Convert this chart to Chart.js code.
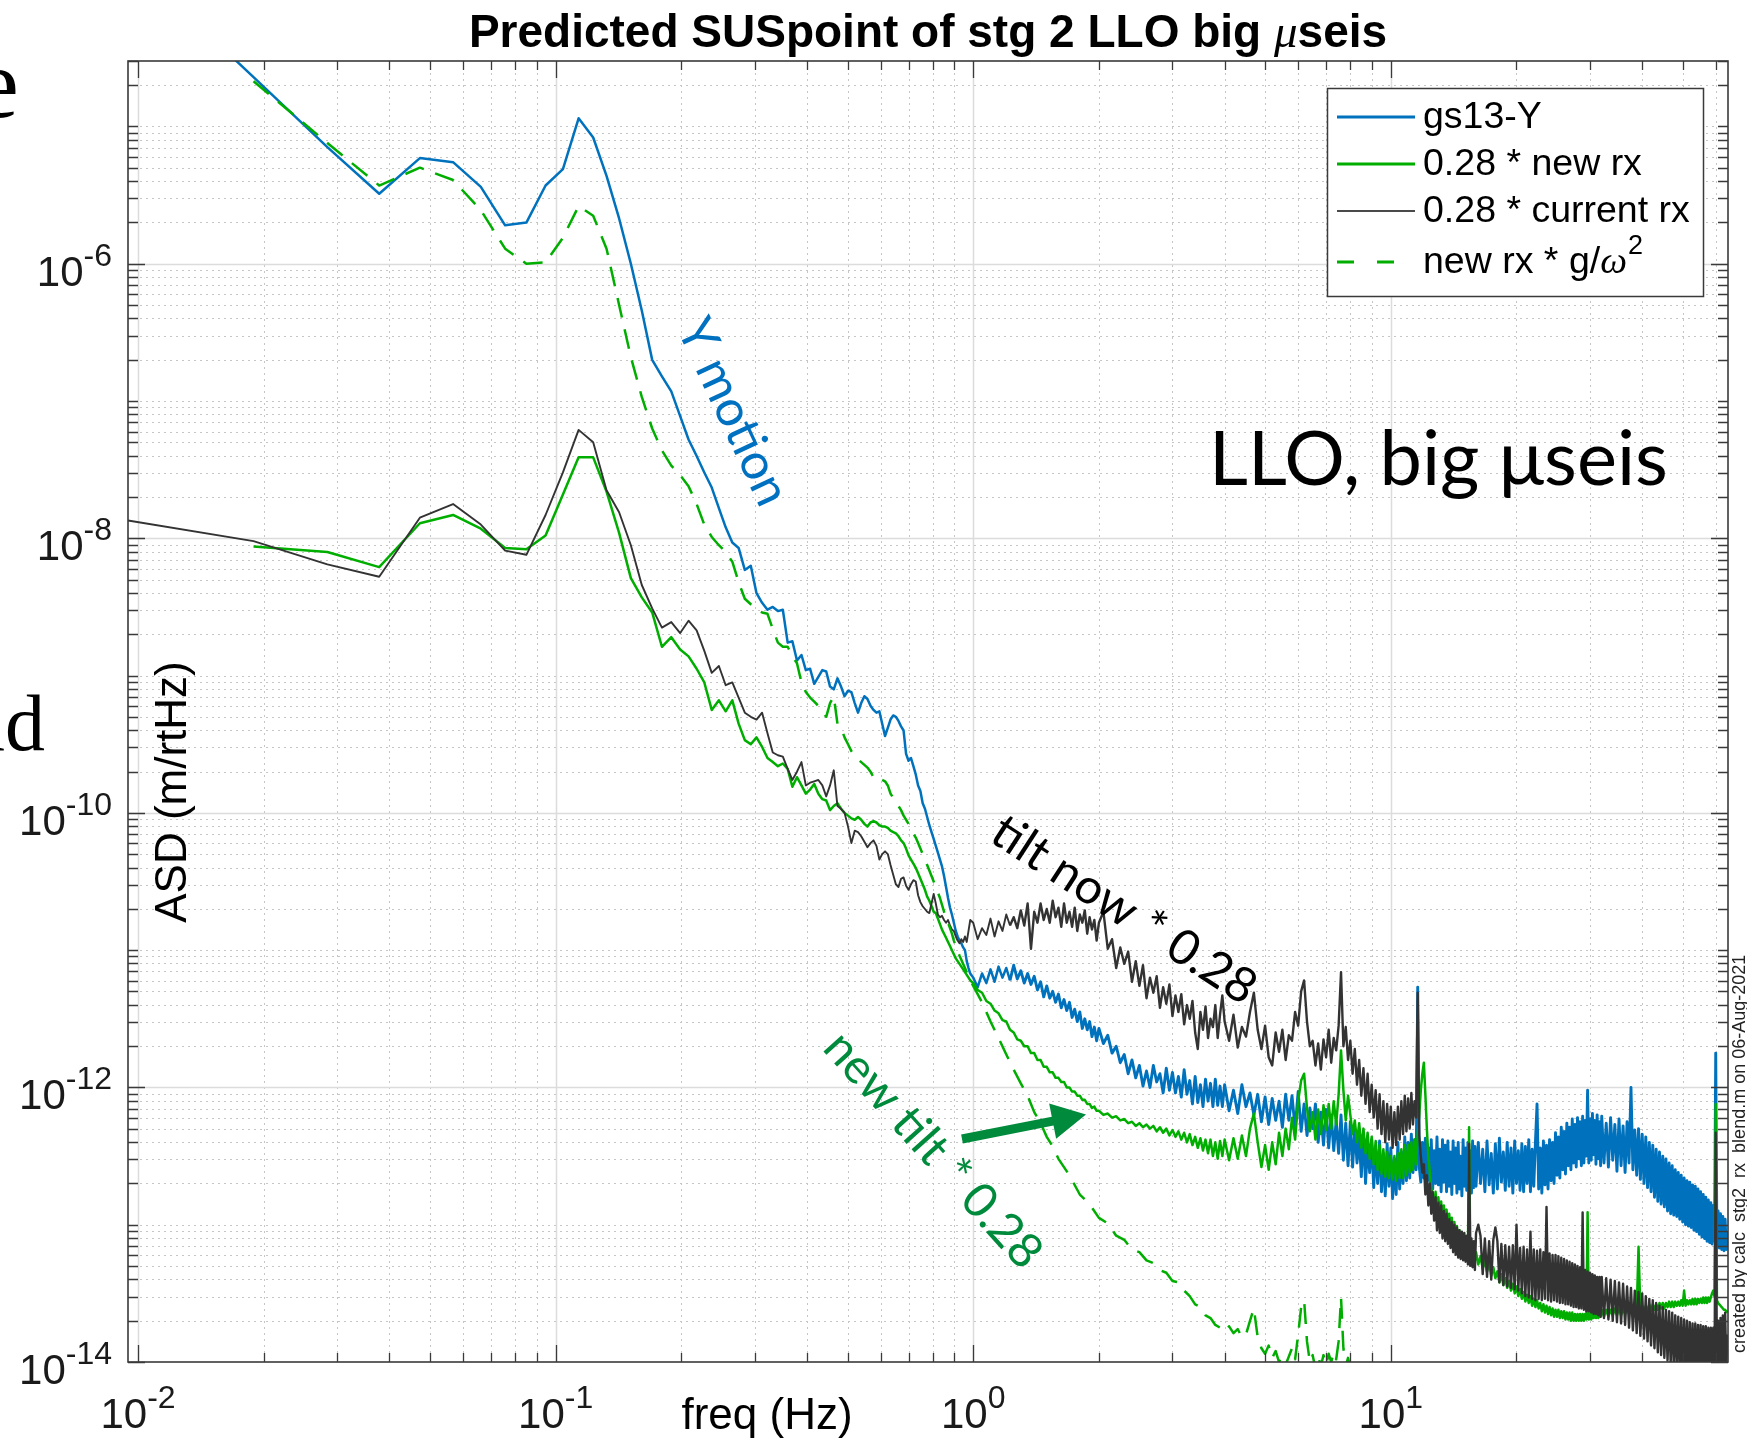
<!DOCTYPE html>
<html>
<head>
<meta charset="utf-8">
<title>Predicted SUSpoint of stg 2 LLO big μseis</title>
<script src="https://cdn.jsdelivr.net/npm/chart.js@4.4.1/dist/chart.umd.min.js"></script>
<style>
  html, body { margin: 0; padding: 0; background: #ffffff; }
  #wrap { width: 1747px; height: 1438px; position: relative; }
  canvas { display: block; }
</style>
</head>
<body>
<div id="wrap"><canvas id="c" width="1747" height="1438"></canvas></div>
<script>
// ---------------------------------------------------------------------------
// Data: ASD values are stored as log10(m/rtHz).
// Low band: FFT bins (df = 0.00946 Hz) up to 1 Hz.
// ---------------------------------------------------------------------------
const binFreq = [0.00946,0.0189,0.0284,0.0378,0.0473,0.0568,0.0662,0.0757,0.0851,0.0946,
0.1041,0.1135,0.1230,0.1324,0.1419,0.1514,0.1608,0.1703,0.1797,0.1892,
0.1987,0.2081,0.2176,0.2270,0.2365,0.2460,0.2554,0.2649,0.2743,0.2838,
0.2933,0.3027,0.3122,0.3216,0.3311,0.3406,0.3500,0.3595,0.3689,0.3784,
0.3879,0.3973,0.4068,0.4162,0.4257,0.4352,0.4446,0.4541,0.4635,0.4730,
0.4825,0.4919,0.5014,0.5108,0.5203,0.5298,0.5392,0.5487,0.5581,0.5676,
0.5771,0.5865,0.5960,0.6054,0.6149,0.6244,0.6338,0.6433,0.6527,0.6622,
0.6717,0.6811,0.6906,0.7000,0.7095,0.7190,0.7284,0.7379,0.7473,0.7568,
0.7663,0.7757,0.7852,0.7946,0.8041,0.8136,0.8230,0.8325,0.8419,0.8514,
0.8609,0.8703,0.8798,0.8892,0.8987,0.9082,0.9176,0.9271,0.9365,0.9460,
0.9555,0.9649,0.9744,0.9838];

// gs13-Y
const gs13Y_bin = [-3.78,-4.64,-5.15,-5.49,-5.23,-5.26,-5.44,-5.72,-5.70,-5.43,
-5.31,-4.94,-5.08,-5.36,-5.67,-6.00,-6.34,-6.70,-6.82,-6.93,
-7.11,-7.28,-7.40,-7.52,-7.63,-7.78,-7.92,-8.03,-8.07,-8.23,
-8.20,-8.40,-8.47,-8.52,-8.50,-8.53,-8.52,-8.76,-8.75,-8.89,
-8.85,-8.96,-8.95,-9.06,-9.01,-8.96,-8.97,-9.08,-9.10,-9.02,
-9.08,-9.15,-9.11,-9.12,-9.20,-9.27,-9.20,-9.15,-9.17,-9.22,
-9.25,-9.27,-9.26,-9.35,-9.44,-9.38,-9.32,-9.29,-9.30,-9.33,
-9.37,-9.40,-9.57,-9.62,-9.60,-9.66,-9.72,-9.80,-9.84,-9.93,
-9.97,-10.03,-10.09,-10.14,-10.19,-10.24,-10.29,-10.34,-10.39,-10.46,
-10.54,-10.62,-10.69,-10.74,-10.80,-10.86,-10.90,-10.93,-10.95,-10.98,
-11.00,-11.08,-11.13,-11.17];

// 0.28 * new rx
const newRx_bin = [null,-8.06,-8.10,-8.21,-7.89,-7.83,-7.93,-8.07,-8.08,-7.98,
-7.68,-7.41,-7.41,-7.66,-7.96,-8.29,-8.43,-8.54,-8.79,-8.72,
-8.81,-8.86,-8.95,-9.05,-9.25,-9.18,-9.26,-9.18,-9.35,-9.47,
-9.50,-9.45,-9.52,-9.60,-9.63,-9.66,-9.64,-9.68,-9.81,-9.74,
-9.80,-9.86,-9.83,-9.79,-9.86,-9.90,-9.91,-9.98,-9.95,-9.93,
-9.97,-10.00,-10.02,-10.04,-10.05,-10.03,-10.05,-10.08,-10.10,-10.07,
-10.06,-10.07,-10.09,-10.10,-10.10,-10.11,-10.13,-10.14,-10.15,-10.17,
-10.20,-10.22,-10.26,-10.31,-10.34,-10.37,-10.40,-10.44,-10.48,-10.52,
-10.56,-10.61,-10.64,-10.68,-10.72,-10.73,-10.77,-10.81,-10.85,-10.88,
-10.91,-10.94,-10.97,-11.00,-11.03,-11.06,-11.08,-11.10,-11.12,-11.14,
-11.16,-11.18,-11.20,-11.22];

// 0.28 * current rx
const curRx_bin = [-7.87,-8.02,-8.19,-8.28,-7.85,-7.75,-7.90,-8.09,-8.12,-7.83,
-7.52,-7.21,-7.30,-7.65,-7.81,-8.05,-8.34,-8.51,-8.65,-8.61,
-8.69,-8.60,-8.67,-8.82,-8.98,-8.93,-9.07,-9.05,-9.16,-9.27,
-9.30,-9.32,-9.27,-9.42,-9.56,-9.58,-9.59,-9.68,-9.76,-9.70,
-9.63,-9.80,-9.78,-9.77,-9.76,-9.80,-9.88,-9.80,-9.69,-9.95,
-9.97,-10.00,-10.10,-10.22,-10.13,-10.14,-10.17,-10.21,-10.25,-10.22,
-10.20,-10.24,-10.34,-10.30,-10.28,-10.30,-10.38,-10.45,-10.52,-10.54,
-10.48,-10.47,-10.53,-10.56,-10.52,-10.49,-10.50,-10.60,-10.65,-10.68,
-10.70,-10.72,-10.73,-10.66,-10.59,-10.66,-10.74,-10.76,-10.75,-10.78,
-10.80,-10.78,-10.82,-10.85,-10.86,-10.90,-10.93,-10.95,-10.92,-10.94,
-10.90,-10.94,-10.86,-10.78];

// new rx * g/w^2
const newRxG_bin = [null,-4.67,-5.12,-5.43,-5.30,-5.39,-5.61,-5.89,-6.00,-5.99,
-5.81,-5.58,-5.65,-5.89,-6.30,-6.68,-6.97,-7.20,-7.36,-7.47,
-7.54,-7.62,-7.75,-7.90,-7.99,-8.05,-8.10,-8.17,-8.32,-8.44,
-8.48,-8.52,-8.54,-8.55,-8.66,-8.76,-8.79,-8.79,-8.86,-8.91,
-9.05,-9.12,-9.16,-9.19,-9.22,-9.26,-9.30,-9.20,-9.15,-9.35,
-9.38,-9.45,-9.50,-9.55,-9.58,-9.61,-9.63,-9.65,-9.67,-9.70,
-9.74,-9.76,-9.75,-9.76,-9.77,-9.80,-9.86,-9.89,-9.92,-9.95,
-9.98,-10.02,-10.05,-10.08,-10.11,-10.15,-10.18,-10.22,-10.26,-10.30,
-10.34,-10.38,-10.42,-10.46,-10.50,-10.54,-10.58,-10.62,-10.67,-10.72,
-10.76,-10.80,-10.84,-10.88,-10.93,-10.97,-11.00,-11.04,-11.07,-11.10,
-11.13,-11.16,-11.19,-11.22];

// High band, 1 - 64 Hz (shared frequency list for the three solid traces)
const hiFreq = [1.000,1.025,1.050,1.075,1.100,1.125,1.150,1.175,1.200,1.225,
1.250,1.275,1.300,1.325,1.350,1.375,1.400,1.425,1.450,1.475,
1.500,1.525,1.550,1.575,1.600,1.625,1.650,1.675,1.700,1.725,
1.750,1.775,1.800,1.825,1.850,1.875,1.900,1.925,1.950,1.975,
2.00,2.05,2.10,2.15,2.20,2.25,2.30,2.35,2.40,2.45,
2.50,2.55,2.60,2.65,2.70,2.75,2.80,2.85,2.90,2.95,
3.00,3.05,3.10,3.15,3.20,3.25,3.30,3.35,3.40,3.45,
3.50,3.55,3.60,3.65,3.70,3.75,3.80,3.85,3.90,3.95,
4.0,4.1,4.2,4.3,4.4,4.5,4.6,4.7,4.8,4.9,
5.0,5.1,5.2,5.3,5.4,5.5,5.6,5.7,5.8,5.9,
6.0,6.1,6.2,6.3,6.4,6.5,6.6,6.7,6.8,6.9,
7.0,7.1,7.2,7.3,7.4,7.5,7.6,7.7,7.8,7.9,
8.0,8.1,8.2,8.3,8.4,8.5,8.6,8.7,8.8,8.9,
9.0,9.1,9.2,9.3,9.4,9.5,9.6,9.7,9.8,9.9,
10.0,10.1,10.2,10.3,10.4,10.5,10.6,10.7,10.8,10.9,
11.0,11.1,11.2,11.3,11.4,11.5,11.6,11.7,11.8,11.9,
12.0,12.1,12.2,12.3,12.4,12.5,12.6,12.7,12.8,12.9,
13.0,13.1,13.2,13.3,13.4,13.5,13.6,13.7,13.8,13.9,
14.0,14.1,14.2,14.3,14.4,14.5,14.6,14.7,14.8,14.9,
15.0,15.1,15.2,15.3,15.4,15.5,15.6,15.7,15.8,15.9,
16.0,16.2,16.4,16.6,16.8,17.0,17.2,17.4,17.6,17.8,
18.0,18.2,18.4,18.6,18.8,19.0,19.2,19.4,19.6,19.8,
20.0,20.2,20.4,20.6,20.8,21.0,21.2,21.4,21.6,21.8,
22.0,22.2,22.4,22.6,22.8,23.0,23.2,23.4,23.6,23.8,
24.0,24.2,24.4,24.6,24.8,25.0,25.2,25.4,25.6,25.8,
26.0,26.2,26.4,26.6,26.8,27.0,27.2,27.4,27.6,27.8,
28.0,28.2,28.4,28.6,28.8,29.0,29.2,29.4,29.6,29.8,
30.0,30.2,30.4,30.6,30.8,31.0,31.2,31.4,31.6,31.8,
32.0,32.4,32.8,33.2,33.6,34.0,34.4,34.8,35.2,35.6,
36.0,36.4,36.8,37.2,37.6,38.0,38.4,38.8,39.2,39.6,
40.0,40.4,40.8,41.2,41.6,42.0,42.4,42.8,43.2,43.6,
44.0,44.4,44.8,45.2,45.6,46.0,46.4,46.8,47.2,47.6,
48.0,48.4,48.8,49.2,49.6,50.0,50.4,50.8,51.2,51.6,
52.0,52.4,52.8,53.2,53.6,54.0,54.4,54.8,55.2,55.6,
56.0,56.4,56.8,57.2,57.6,58.0,58.4,58.8,59.2,59.6,
60.0,60.4,60.8,61.2,61.6,62.0,62.4,62.8,63.2,63.6,
64.0];

const gs13Y_hi = [-11.20,-11.27,-11.17,-11.24,-11.14,-11.23,-11.12,-11.20,-11.13,-11.22,
-11.11,-11.21,-11.15,-11.24,-11.17,-11.25,-11.19,-11.29,-11.23,-11.34,
-11.26,-11.35,-11.30,-11.38,-11.32,-11.42,-11.36,-11.44,-11.38,-11.49,
-11.43,-11.52,-11.45,-11.57,-11.50,-11.58,-11.52,-11.63,-11.56,-11.66,
-11.57,-11.68,-11.62,-11.75,-11.70,-11.82,-11.76,-11.90,-11.80,-11.93,
-11.84,-11.99,-11.88,-12.00,-11.84,-11.96,-11.90,-12.04,-11.86,-12.02,
-11.89,-12.04,-11.92,-12.07,-11.87,-12.05,-11.95,-12.12,-11.92,-12.11,
-11.98,-12.14,-11.94,-12.10,-11.97,-12.14,-11.94,-12.13,-11.99,-12.14,
-11.98,-12.17,-12.02,-12.19,-11.98,-12.14,-12.04,-12.20,-12.05,-12.25,
-12.07,-12.27,-12.08,-12.24,-12.10,-12.29,-12.05,-12.24,-12.06,-12.30,
-12.03,-12.32,-12.12,-12.35,-12.15,-12.30,-12.12,-12.40,-12.18,-12.42,
-12.16,-12.44,-12.20,-12.46,-12.24,-12.48,-12.20,-12.53,-12.26,-12.57,
-12.25,-12.58,-12.30,-12.55,-12.36,-12.65,-12.33,-12.70,-12.42,-12.62,
-12.38,-12.73,-12.45,-12.70,-12.39,-12.76,-12.48,-12.79,-12.41,-12.72,
-12.44,-12.81,-12.52,-12.78,-12.40,-12.74,-12.47,-12.70,-12.36,-12.68,
-12.40,-12.66,-12.34,-12.62,-12.38,-12.60,-11.27,-12.58,-12.69,-12.40,
-12.66,-12.37,-12.72,-12.44,-12.68,-12.38,-12.74,-12.46,-12.70,-12.36,
-12.71,-12.45,-12.76,-12.38,-12.69,-12.42,-12.76,-12.39,-12.72,-12.47,
-12.78,-12.39,-12.70,-12.44,-12.77,-12.40,-12.74,-12.50,-12.79,-12.38,
-12.72,-12.44,-12.75,-12.40,-12.71,-12.46,-12.77,-12.39,-12.73,-12.43,
-12.72,-12.40,-12.70,-12.45,-12.76,-12.39,-12.71,-12.48,-12.77,-12.41,
-12.74,-12.37,-12.69,-12.47,-12.75,-12.40,-12.72,-12.44,-12.77,-12.39,
-12.70,-12.46,-12.75,-12.41,-12.76,-12.43,-12.70,-12.38,-12.76,-12.45,
-12.72,-12.40,-12.12,-12.74,-12.44,-12.77,-12.39,-12.71,-12.42,-12.74,
-12.38,-12.68,-12.40,-12.70,-12.33,-12.64,-12.36,-12.66,-12.29,-12.60,
-12.32,-12.63,-12.26,-12.57,-12.29,-12.60,-12.23,-12.55,-12.27,-12.58,
-12.22,-12.52,-12.25,-12.57,-12.21,-12.55,-12.24,-12.50,-12.02,-12.55,
-12.23,-12.53,-12.19,-12.49,-12.24,-12.56,-12.20,-12.52,-12.25,-12.57,
-12.21,-12.55,-12.26,-12.58,-12.22,-12.53,-12.27,-12.61,-12.23,-12.57,
-12.28,-12.62,-12.25,-12.55,-12.00,-12.60,-12.31,-12.64,-12.30,-12.67,
-12.34,-12.70,-12.36,-12.73,-12.40,-12.76,-12.42,-12.80,-12.45,-12.83,
-12.47,-12.85,-12.50,-12.87,-12.52,-12.90,-12.55,-12.92,-12.57,-12.93,
-12.60,-12.94,-12.62,-12.96,-12.64,-12.98,-12.66,-13.00,-12.68,-13.01,
-12.69,-13.02,-12.71,-13.04,-12.72,-13.05,-12.74,-13.07,-12.76,-13.09,
-12.78,-13.10,-12.80,-13.12,-12.82,-13.13,-12.84,-13.14,-12.86,-13.12,
-11.75,-13.16,-12.90,-13.17,-12.92,-13.18,-12.94,-13.19,-12.96,-13.18,
-13.05];

const newRx_hi = [-11.24,-11.29,-11.31,-11.37,-11.39,-11.44,-11.46,-11.51,-11.52,-11.58,
-11.60,-11.65,-11.66,-11.70,-11.70,-11.75,-11.75,-11.80,-11.80,-11.85,
-11.85,-11.89,-11.89,-11.93,-11.93,-11.96,-11.96,-12.00,-12.00,-12.03,
-12.03,-12.06,-12.06,-12.09,-12.09,-12.12,-12.12,-12.15,-12.14,-12.17,
-12.17,-12.20,-12.19,-12.22,-12.21,-12.24,-12.23,-12.26,-12.25,-12.28,
-12.26,-12.29,-12.27,-12.30,-12.28,-12.32,-12.29,-12.33,-12.30,-12.35,
-12.31,-12.36,-12.32,-12.38,-12.33,-12.40,-12.34,-12.42,-12.36,-12.44,
-12.37,-12.46,-12.38,-12.48,-12.38,-12.50,-12.40,-12.52,-12.39,-12.50,
-12.38,-12.53,-12.37,-12.52,-12.35,-12.50,-12.30,-12.19,-12.40,-12.58,
-12.42,-12.60,-12.40,-12.56,-12.33,-12.50,-12.30,-12.45,-12.22,-12.38,
-12.10,-11.95,-11.90,-12.15,-12.32,-12.18,-12.38,-12.16,-12.34,-12.13,
-12.31,-12.12,-12.30,-12.10,-12.27,-12.05,-11.73,-12.02,-12.24,-12.06,
-12.20,-12.34,-12.24,-12.40,-12.26,-12.44,-12.30,-12.48,-12.33,-12.52,
-12.36,-12.56,-12.39,-12.60,-12.42,-12.63,-12.45,-12.65,-12.47,-12.66,
-12.50,-12.67,-12.50,-12.68,-12.48,-12.66,-12.45,-12.66,-12.42,-12.64,
-12.42,-12.62,-12.40,-12.60,-12.38,-12.56,-12.34,-12.20,-12.02,-11.90,
-11.82,-12.05,-12.30,-12.50,-12.62,-12.74,-12.78,-12.86,-12.76,-12.90,
-12.80,-12.94,-12.83,-12.97,-12.86,-13.00,-12.89,-13.02,-12.92,-13.05,
-12.95,-13.08,-12.98,-13.11,-13.01,-13.13,-13.04,-13.15,-13.06,-13.17,
-13.08,-13.19,-13.10,-13.21,-12.29,-13.22,-13.14,-13.24,-13.16,-13.26,
-13.20,-13.29,-13.23,-13.32,-13.26,-13.34,-13.28,-13.37,-13.31,-13.39,
-13.34,-13.42,-13.36,-13.44,-13.39,-13.46,-13.41,-13.48,-13.43,-13.50,
-13.45,-13.52,-13.47,-13.54,-13.49,-13.56,-13.51,-13.57,-13.52,-13.59,
-13.54,-13.60,-13.55,-13.61,-13.57,-13.63,-13.58,-13.64,-13.59,-13.65,
-13.60,-13.66,-13.61,-13.67,-13.62,-13.67,-13.62,-13.68,-13.63,-13.68,
-13.63,-13.69,-13.64,-13.69,-13.64,-13.70,-13.64,-13.70,-13.65,-13.70,
-13.65,-13.70,-13.65,-13.70,-13.65,-13.70,-13.65,-13.69,-12.91,-13.69,
-13.64,-13.69,-13.64,-13.68,-13.64,-13.68,-13.63,-13.68,-13.63,-13.67,
-13.62,-13.67,-13.62,-13.67,-13.62,-13.66,-13.61,-13.66,-13.61,-13.66,
-13.61,-13.65,-13.60,-13.65,-13.60,-13.65,-13.60,-13.64,-13.16,-13.64,
-13.59,-13.64,-13.59,-13.63,-13.58,-13.63,-13.58,-13.62,-13.58,-13.62,
-13.57,-13.61,-13.57,-13.61,-13.57,-13.60,-13.56,-13.60,-13.56,-13.60,
-13.56,-13.59,-13.56,-13.59,-13.55,-13.59,-13.48,-13.59,-13.55,-13.58,
-13.55,-13.58,-13.54,-13.58,-13.54,-13.58,-13.54,-13.57,-13.54,-13.57,
-13.53,-13.57,-13.53,-13.57,-13.53,-13.56,-13.53,-13.50,-13.48,-13.52,
-12.12,-13.55,-13.57,-13.58,-13.59,-13.60,-13.61,-13.62,-13.62,-13.63,
-13.64];

const curRx_hi = [-10.80,-10.92,-10.84,-10.89,-10.77,-10.90,-10.79,-10.86,-10.74,-10.82,
-10.76,-10.84,-10.71,-10.82,-10.66,-10.99,-10.72,-10.80,-10.66,-10.78,
-10.70,-10.80,-10.64,-10.76,-10.69,-10.83,-10.66,-10.80,-10.72,-10.83,
-10.69,-10.86,-10.74,-10.80,-10.71,-10.88,-10.76,-10.85,-10.78,-10.93,
-10.80,-10.72,-10.99,-10.92,-11.13,-10.98,-11.10,-11.01,-11.23,-11.08,
-11.26,-11.11,-11.35,-11.20,-11.31,-11.19,-11.42,-11.27,-11.39,-11.25,
-11.48,-11.33,-11.45,-11.32,-11.54,-11.40,-11.50,-11.37,-11.60,-11.72,
-11.45,-11.58,-11.41,-11.64,-11.50,-11.56,-11.40,-11.64,-11.47,-11.33,
-11.52,-11.66,-11.47,-11.71,-11.56,-11.63,-11.45,-11.31,-11.58,-11.72,
-11.55,-11.78,-11.84,-11.60,-11.74,-11.58,-11.80,-11.62,-11.66,-11.45,
-11.55,-11.30,-11.22,-11.52,-11.70,-11.66,-11.84,-11.68,-11.87,-11.65,
-11.78,-11.58,-11.82,-11.64,-11.73,-11.55,-11.16,-11.70,-11.56,-11.80,
-11.66,-11.90,-11.72,-11.98,-11.80,-12.06,-11.86,-12.12,-11.90,-12.18,
-11.98,-12.22,-12.02,-12.30,-12.05,-12.34,-12.10,-12.40,-12.12,-12.38,
-12.14,-12.44,-12.18,-12.42,-12.14,-12.38,-12.10,-12.34,-12.06,-12.32,
-12.08,-12.30,-12.04,-12.27,-12.10,-12.22,-11.31,-12.35,-12.50,-12.62,
-12.56,-12.78,-12.64,-12.86,-12.70,-12.92,-12.76,-12.97,-12.80,-13.04,
-12.84,-13.06,-12.86,-13.10,-12.90,-13.12,-12.92,-13.14,-12.96,-13.17,
-12.98,-13.20,-13.00,-13.22,-13.02,-13.24,-13.04,-13.25,-13.05,-13.26,
-13.06,-13.27,-13.08,-13.29,-12.41,-13.30,-13.10,-13.31,-13.12,-13.33,
-13.06,-13.00,-13.08,-13.36,-13.10,-13.38,-13.12,-13.40,-13.11,-13.02,
-13.12,-13.42,-13.14,-13.44,-13.15,-13.45,-13.16,-13.46,-13.15,-13.47,
-13.00,-13.48,-13.17,-13.50,-13.16,-13.52,-13.18,-13.53,-13.05,-13.54,
-13.18,-13.55,-13.19,-13.54,-13.18,-13.55,-13.20,-13.54,-12.87,-13.55,
-13.21,-13.56,-13.22,-13.55,-13.22,-13.56,-13.23,-13.57,-13.24,-13.57,
-13.25,-13.58,-13.26,-13.58,-13.27,-13.59,-13.28,-13.60,-13.29,-13.60,
-13.30,-13.61,-13.31,-13.61,-12.91,-13.62,-13.33,-13.63,-13.34,-13.63,
-13.35,-13.64,-13.36,-13.65,-13.37,-13.65,-13.38,-13.66,-13.38,-13.67,
-13.38,-13.68,-13.39,-13.69,-13.40,-13.70,-13.41,-13.71,-13.42,-13.72,
-13.43,-13.73,-13.45,-13.75,-13.46,-13.77,-13.48,-13.79,-13.49,-13.81,
-13.50,-13.83,-13.52,-13.85,-13.54,-13.88,-13.55,-13.90,-13.57,-13.93,
-13.59,-13.95,-13.60,-13.97,-13.62,-13.99,-13.63,-14.01,-13.64,-14.03,
-13.66,-14.04,-13.67,-14.05,-13.68,-14.06,-13.69,-14.07,-13.70,-14.08,
-13.71,-14.08,-13.72,-14.09,-13.72,-14.09,-13.73,-14.10,-13.73,-14.10,
-13.74,-14.10,-13.74,-14.10,-13.75,-14.10,-13.75,-14.10,-13.75,-14.09,
-12.33,-14.08,-13.70,-14.07,-13.68,-14.06,-13.66,-14.05,-13.64,-14.04,
-13.80];

// new rx * g/w^2 above 1 Hz (runs off the bottom of the axes near 8 Hz)
const dashFreq = [1.00,1.05,1.10,1.15,1.20,1.25,1.30,1.35,1.40,1.45,
1.50,1.55,1.60,1.70,1.80,1.90,2.00,2.10,2.20,2.30,
2.40,2.50,2.60,2.70,2.80,2.90,3.00,3.10,3.20,3.30,
3.40,3.50,3.60,3.70,3.80,3.90,4.00,4.10,4.20,4.30,
4.40,4.50,4.60,4.70,4.80,4.90,5.00,5.10,5.20,5.30,
5.40,5.50,5.60,5.70,5.80,5.90,6.00,6.10,6.20,6.30,
6.40,6.50,6.60,6.70,6.80,6.90,7.00,7.10,7.20,7.30,
7.40,7.50,7.60,7.70,7.80,7.90,8.00,8.10,8.20,8.30];
const newRxG_hi = [-11.26,-11.38,-11.52,-11.64,-11.76,-11.87,-11.97,-12.06,-12.18,-12.26,
-12.36,-12.43,-12.52,-12.64,-12.78,-12.85,-12.95,-12.99,-13.08,-13.11,
-13.18,-13.20,-13.26,-13.28,-13.33,-13.35,-13.41,-13.42,-13.48,-13.52,
-13.58,-13.60,-13.66,-13.68,-13.73,-13.75,-13.78,-13.74,-13.79,-13.76,
-13.82,-13.80,-13.70,-13.61,-13.82,-13.90,-13.94,-13.88,-13.97,-13.92,
-14.00,-13.95,-14.02,-13.96,-13.90,-13.98,-13.80,-13.60,-13.55,-13.85,
-14.00,-13.95,-14.05,-13.96,-14.03,-13.95,-14.02,-13.94,-14.00,-13.93,
-13.98,-13.85,-13.53,-13.90,-14.03,-13.97,-14.05,-14.10,-14.20,-14.30];

// Axis ranges and tick labels
const xRange = [0.00946, 64.2];
const yRange = [1e-14, 3e-5];
const xTickExp = [-2, -1, 0, 1];
const yTickExp = [-14, -12, -10, -8, -6];

// ---------------------------------------------------------------------------
const BLUE = '#0072BD', GREEN = '#00AE00', DARK = '#333333';
const NOTE_GREEN = '#008A3C', NOTE_BLUE = '#0070C0';
const SANS = '"Liberation Sans", Arial, Helvetica, sans-serif';
const HUMAN = 'Lato, "Open Sans", sans-serif';
const SERIF = '"Liberation Serif", "Times New Roman", serif';

function toPoints(freqs, logs) {
  const out = [];
  for (let i = 0; i < freqs.length; i++) {
    const v = logs[i];
    if (v === null || v === undefined) continue;
    out.push({ x: freqs[i], y: Math.pow(10, v) });
  }
  return out;
}

// grid (solid majors, dotted minors)
function drawGrid(chart) {
  const { ctx, chartArea: a, scales: { x, y } } = chart;
  ctx.save();
  ctx.beginPath();
  ctx.rect(a.left, a.top, a.right - a.left, a.bottom - a.top);
  ctx.clip();
  const vline = (v) => {
    const px = Math.round(x.getPixelForValue(v)) + 0.5;
    ctx.beginPath(); ctx.moveTo(px, a.top); ctx.lineTo(px, a.bottom); ctx.stroke();
  };
  const hline = (v) => {
    const py = Math.round(y.getPixelForValue(v)) + 0.5;
    ctx.beginPath(); ctx.moveTo(a.left, py); ctx.lineTo(a.right, py); ctx.stroke();
  };
  ctx.strokeStyle = '#c6c6c6'; ctx.lineWidth = 1; ctx.setLineDash([2, 4]);
  for (let e = -3; e <= 1; e++) for (let m = 2; m <= 9; m++) {
    const v = m * Math.pow(10, e);
    if (v > xRange[0] && v < xRange[1]) vline(v);
  }
  for (let e = -14; e <= -5; e++) for (let m = 1; m <= 9; m++) {
    const v = m * Math.pow(10, e);
    const major = (m === 1 && e % 2 === 0);
    if (!major && v > yRange[0] * 1.0001 && v < yRange[1] * 0.9999) hline(v);
  }
  ctx.setLineDash([]); ctx.strokeStyle = '#dcdcdc'; ctx.lineWidth = 1.5;
  xTickExp.forEach(e => vline(Math.pow(10, e)));
  yTickExp.forEach(e => { const v = Math.pow(10, e); if (v > yRange[0] * 1.0001) hline(v); });
  ctx.restore();
}

function drawFrame(chart) {
  const { ctx, chartArea: a, scales: { x, y } } = chart;
  ctx.save();
  ctx.strokeStyle = '#3a3a3a'; ctx.lineWidth = 1.6; ctx.setLineDash([]);
  ctx.strokeRect(a.left, a.top, a.right - a.left, a.bottom - a.top);
  ctx.lineWidth = 1.3;
  const tickX = (v, len) => {
    const px = Math.round(x.getPixelForValue(v)) + 0.5;
    ctx.beginPath();
    ctx.moveTo(px, a.bottom); ctx.lineTo(px, a.bottom - len);
    ctx.moveTo(px, a.top); ctx.lineTo(px, a.top + len);
    ctx.stroke();
  };
  const tickY = (v, len) => {
    const py = Math.round(y.getPixelForValue(v)) + 0.5;
    ctx.beginPath();
    ctx.moveTo(a.left, py); ctx.lineTo(a.left + len, py);
    ctx.moveTo(a.right, py); ctx.lineTo(a.right - len, py);
    ctx.stroke();
  };
  for (let e = -3; e <= 1; e++) for (let m = 1; m <= 9; m++) {
    const v = m * Math.pow(10, e);
    if (v > xRange[0] && v < xRange[1]) tickX(v, m === 1 ? 17 : 9);
  }
  for (let e = -14; e <= -5; e++) for (let m = 1; m <= 9; m++) {
    const v = m * Math.pow(10, e);
    if (v < yRange[0] * 0.9999 || v > yRange[1] * 1.0001) continue;
    tickY(v, (m === 1 && e % 2 === 0) ? 17 : 10);
  }
  ctx.restore();
}

// "10" with a raised exponent
function powerLabel(ctx, exp, anchorX, baseY, align) {
  const base = '10', sup = String(exp);
  ctx.font = '42px ' + SANS; const wb = ctx.measureText(base).width;
  ctx.font = '32px ' + SANS; const ws = ctx.measureText(sup).width;
  const x0 = align === 'right' ? anchorX - wb - ws : anchorX - (wb + ws) / 2;
  ctx.textAlign = 'left'; ctx.textBaseline = 'alphabetic';
  ctx.font = '42px ' + SANS; ctx.fillText(base, x0, baseY);
  ctx.font = '32px ' + SANS; ctx.fillText(sup, x0 + wb, baseY - 20);
}

function fitSize(ctx, text, style, family, target, ref) {
  ctx.font = `${style} ${ref}px ${family}`;
  return ref * target / ctx.measureText(text).width;
}

function rotatedText(ctx, text, cx, cy, deg, size, family, color) {
  ctx.save();
  ctx.translate(cx, cy); ctx.rotate(deg * Math.PI / 180);
  ctx.font = `${size}px ${family}`; ctx.fillStyle = color;
  ctx.textAlign = 'center'; ctx.textBaseline = 'middle';
  ctx.fillText(text, 0, 0);
  ctx.restore();
}

function drawLabels(chart) {
  const { ctx, chartArea: a, scales: { x, y } } = chart;
  ctx.save();
  ctx.fillStyle = '#1a1a1a';
  xTickExp.forEach(e => powerLabel(ctx, e, x.getPixelForValue(Math.pow(10, e)), 1428, 'center'));
  yTickExp.forEach(e => powerLabel(ctx, e, 112, y.getPixelForValue(Math.pow(10, e)) + 22, 'right'));

  // axis titles
  ctx.fillStyle = '#000';
  ctx.font = '44px ' + SANS; ctx.textAlign = 'center'; ctx.textBaseline = 'alphabetic';
  ctx.fillText('freq (Hz)', 767, 1429);
  ctx.save();
  ctx.translate(186, 792); ctx.rotate(-Math.PI / 2);
  ctx.fillText('ASD (m/rtHz)', 0, 0);
  ctx.restore();

  // plot title with TeX-style italic mu
  const parts = [
    ['Predicted SUSpoint of stg 2 LLO big ', 'bold 46px ' + SANS],
    ['\u03BC', 'italic 47px ' + SERIF],
    ['seis', 'bold 46px ' + SANS]
  ];
  let total = 0;
  parts.forEach(p => { ctx.font = p[1]; total += ctx.measureText(p[0]).width; });
  let tx = (a.left + a.right) / 2 - total / 2;
  ctx.textAlign = 'left';
  parts.forEach(p => { ctx.font = p[1]; ctx.fillText(p[0], tx, 47); tx += ctx.measureText(p[0]).width; });

  // file stamp along the right edge
  ctx.save();
  ctx.translate(1745, 1353); ctx.rotate(-Math.PI / 2);
  ctx.font = '18px ' + SANS; ctx.fillStyle = '#222'; ctx.textAlign = 'left';
  ctx.fillText('created by calc_stg2_rx_blend.m on 06-Aug-2021', 0, 0);
  ctx.restore();

  // slide text running in from the left edge
  ctx.font = '100px ' + SERIF; ctx.fillStyle = '#000'; ctx.textAlign = 'right';
  ctx.fillText('e', 19, 117);
  ctx.font = '80px ' + SERIF;
  ctx.fillText('nd', 45, 750);
  ctx.restore();
}

function drawLegend(chart) {
  const { ctx } = chart;
  const L = 1327, T = 88, R = 1703, B = 296;
  ctx.save();
  ctx.fillStyle = '#ffffff'; ctx.fillRect(L, T, R - L, B - T);
  ctx.strokeStyle = '#3a3a3a'; ctx.lineWidth = 1.5; ctx.strokeRect(L + 0.5, T + 0.5, R - L, B - T);
  const rows = [
    { y: 117, c: BLUE, w: 3, d: [], t: 'gs13-Y' },
    { y: 164, c: GREEN, w: 3, d: [], t: '0.28 * new rx' },
    { y: 211, c: '#4a4a4a', w: 2, d: [], t: '0.28 * current rx' },
    { y: 262, c: GREEN, w: 3, d: [17, 23], t: null }
  ];
  rows.forEach(r => {
    ctx.strokeStyle = r.c; ctx.lineWidth = r.w; ctx.setLineDash(r.d);
    ctx.beginPath(); ctx.moveTo(1337, r.y); ctx.lineTo(1415, r.y); ctx.stroke();
  });
  ctx.setLineDash([]);
  ctx.fillStyle = '#000'; ctx.textAlign = 'left'; ctx.textBaseline = 'middle';
  ctx.font = '37.5px ' + SANS;
  rows.slice(0, 3).forEach(r => ctx.fillText(r.t, 1423, r.y + 1));
  // new rx * g/ω²
  let lx = 1423; const ly = 263;
  ctx.fillText('new rx * g/', lx, ly); lx += ctx.measureText('new rx * g/').width;
  ctx.font = 'italic 38px ' + SERIF; ctx.fillText('\u03C9', lx, ly); lx += ctx.measureText('\u03C9').width + 1;
  ctx.font = '27px ' + SANS; ctx.fillText('2', lx, ly - 16);
  ctx.restore();
}

function drawNotes(chart) {
  const { ctx } = chart;
  ctx.save();
  let s = fitSize(ctx, 'Y motion', '', HUMAN, 200, 40);
  rotatedText(ctx, 'Y motion', 733, 412, 65, s, HUMAN, NOTE_BLUE);
  s = fitSize(ctx, 'tilt now * 0.28', '', HUMAN, 305, 40);
  rotatedText(ctx, 'tilt now * 0.28', 1124, 910, 33, s, HUMAN, '#000');
  s = fitSize(ctx, 'new tilt * 0.28', '', HUMAN, 300, 40);
  rotatedText(ctx, 'new tilt * 0.28', 933, 1150, 48, s, HUMAN, NOTE_GREEN);
  s = fitSize(ctx, 'LLO, big \u03BCseis', '', HUMAN, 459, 60);
  ctx.font = `${s}px ${HUMAN}`; ctx.fillStyle = '#000';
  ctx.textAlign = 'left'; ctx.textBaseline = 'alphabetic';
  ctx.fillText('LLO, big \u03BCseis', 1209, 485);

  // arrow pointing at the new-tilt trace
  const tail = [962, 1139], tip = [1086, 1114.5];
  const dx = tip[0] - tail[0], dy = tip[1] - tail[1], len = Math.hypot(dx, dy);
  const ux = dx / len, uy = dy / len, nx = -uy, ny = ux;
  const hl = 34, hw = 18, sw = 4.5;
  const bx = tip[0] - ux * hl, by = tip[1] - uy * hl;
  ctx.fillStyle = NOTE_GREEN;
  ctx.beginPath();
  ctx.moveTo(tail[0] + nx * sw, tail[1] + ny * sw);
  ctx.lineTo(bx + nx * sw, by + ny * sw);
  ctx.lineTo(bx + nx * hw, by + ny * hw);
  ctx.lineTo(tip[0], tip[1]);
  ctx.lineTo(bx - nx * hw, by - ny * hw);
  ctx.lineTo(bx - nx * sw, by - ny * sw);
  ctx.lineTo(tail[0] - nx * sw, tail[1] - ny * sw);
  ctx.closePath(); ctx.fill();
  ctx.restore();
}

const decor = {
  id: 'decor',
  beforeDatasetsDraw(chart) { drawGrid(chart); },
  afterDatasetsDraw(chart) { drawFrame(chart); drawNotes(chart); drawLegend(chart); drawLabels(chart); }
};

const common = { pointRadius: 0, tension: 0, fill: false, borderJoinStyle: 'round', borderCapStyle: 'butt', clip: 0 };
// the noisy upper band is drawn a little heavier
const heavyAbove = (px, w) => ({ borderWidth: c => (c.p0 && c.p0.x > px ? w : undefined) });

new Chart(document.getElementById('c'), {
  type: 'line',
  data: {
    datasets: [
      Object.assign({ label: 'gs13-Y', data: toPoints(binFreq, gs13Y_bin).concat(toPoints(hiFreq, gs13Y_hi)),
        borderColor: BLUE, borderWidth: 2.5, order: 4, segment: heavyAbove(1010, 2.9) }, common),
      Object.assign({ label: '0.28 * new rx', data: toPoints(binFreq, newRx_bin).concat(toPoints(hiFreq, newRx_hi)),
        borderColor: GREEN, borderWidth: 2.5, order: 3 }, common),
      Object.assign({ label: '0.28 * current rx', data: toPoints(binFreq, curRx_bin).concat(toPoints(hiFreq, curRx_hi)),
        borderColor: DARK, borderWidth: 1.9, order: 2, segment: heavyAbove(1010, 2.4) }, common),
      Object.assign({ label: 'new rx * g/\u03C9\u00B2', data: toPoints(binFreq, newRxG_bin).concat(toPoints(dashFreq, newRxG_hi)),
        borderColor: GREEN, borderWidth: 2.5, borderDash: [20, 12], order: 1 }, common)
    ]
  },
  options: {
    responsive: false,
    animation: false,
    devicePixelRatio: 1,
    events: [],
    parsing: false,
    normalized: true,
    layout: { padding: { left: 128, right: 19, top: 61, bottom: 76 } },
    plugins: { legend: { display: false }, tooltip: { enabled: false }, title: { display: false } },
    scales: {
      x: { type: 'logarithmic', min: xRange[0], max: xRange[1], bounds: 'data', display: false },
      y: { type: 'logarithmic', min: yRange[0], max: yRange[1], bounds: 'data', display: false }
    }
  },
  plugins: [decor]
});
</script>
</body>
</html>
